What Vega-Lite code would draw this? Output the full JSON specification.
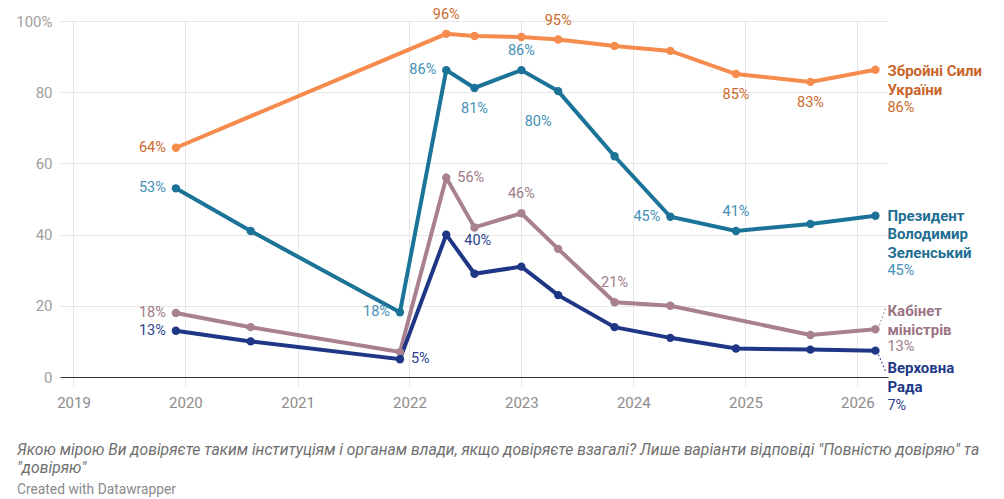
{
  "$schema": "https://vega.github.io/schema/vega-lite/v6.json",
  "width": 828,
  "height": 356,
  "autosize": {"type": "none"},
  "padding": {"left": 60, "top": 21, "right": 116, "bottom": 122},
  "background": "white",
  "config": {
    "font": "Roboto",
    "view": {"stroke": null},
    "text": {"font": "Roboto", "fontSize": 14.5}
  },
  "title": {
    "text": ["Якою мірою Ви довіряєте таким інституціям і органам влади, якщо довіряєте взагалі? Лише варіанти відповіді \"Повністю довіряю\" та", "\"довіряю\""],
    "subtitle": "Created with Datawrapper",
    "orient": "bottom",
    "anchor": "start",
    "frame": "group",
    "dx": -43,
    "offset": 31,
    "font": "Roboto",
    "fontSize": 15.7,
    "fontStyle": "italic",
    "fontWeight": "normal",
    "color": "#6f6f6f",
    "lineHeight": 18,
    "subtitleFont": "Roboto",
    "subtitleFontSize": 13.8,
    "subtitleColor": "#8a8a8a",
    "subtitlePadding": 6
  },
  "datasets": {
    "trust": [
      {"s": "zsu", "date": "2019-12-01", "v": 64.4},
      {"s": "zsu", "date": "2022-05-01", "v": 96.4},
      {"s": "zsu", "date": "2022-08-01", "v": 95.8},
      {"s": "zsu", "date": "2023-01-01", "v": 95.5},
      {"s": "zsu", "date": "2023-05-01", "v": 94.8},
      {"s": "zsu", "date": "2023-11-01", "v": 93.0},
      {"s": "zsu", "date": "2024-05-01", "v": 91.6},
      {"s": "zsu", "date": "2024-12-01", "v": 85.1},
      {"s": "zsu", "date": "2025-08-01", "v": 82.9},
      {"s": "zsu", "date": "2026-03-01", "v": 86.3},
      {"s": "pres", "date": "2019-12-01", "v": 53.0},
      {"s": "pres", "date": "2020-08-01", "v": 41.0},
      {"s": "pres", "date": "2021-12-01", "v": 18.2},
      {"s": "pres", "date": "2022-05-01", "v": 86.2},
      {"s": "pres", "date": "2022-08-01", "v": 81.2},
      {"s": "pres", "date": "2023-01-01", "v": 86.2},
      {"s": "pres", "date": "2023-05-01", "v": 80.3},
      {"s": "pres", "date": "2023-11-01", "v": 62.0},
      {"s": "pres", "date": "2024-05-01", "v": 45.0},
      {"s": "pres", "date": "2024-12-01", "v": 41.0},
      {"s": "pres", "date": "2025-08-01", "v": 43.0},
      {"s": "pres", "date": "2026-03-01", "v": 45.3},
      {"s": "cab", "date": "2019-12-01", "v": 18.0},
      {"s": "cab", "date": "2020-08-01", "v": 14.0},
      {"s": "cab", "date": "2021-12-01", "v": 7.0},
      {"s": "cab", "date": "2022-05-01", "v": 56.0},
      {"s": "cab", "date": "2022-08-01", "v": 42.0},
      {"s": "cab", "date": "2023-01-01", "v": 46.0},
      {"s": "cab", "date": "2023-05-01", "v": 36.0},
      {"s": "cab", "date": "2023-11-01", "v": 21.0},
      {"s": "cab", "date": "2024-05-01", "v": 20.0},
      {"s": "cab", "date": "2025-08-01", "v": 11.8},
      {"s": "cab", "date": "2026-03-01", "v": 13.4},
      {"s": "rada", "date": "2019-12-01", "v": 13.0},
      {"s": "rada", "date": "2020-08-01", "v": 10.0},
      {"s": "rada", "date": "2021-12-01", "v": 5.0},
      {"s": "rada", "date": "2022-05-01", "v": 40.0},
      {"s": "rada", "date": "2022-08-01", "v": 29.0},
      {"s": "rada", "date": "2023-01-01", "v": 31.0},
      {"s": "rada", "date": "2023-05-01", "v": 23.0},
      {"s": "rada", "date": "2023-11-01", "v": 14.0},
      {"s": "rada", "date": "2024-05-01", "v": 11.0},
      {"s": "rada", "date": "2024-12-01", "v": 8.0},
      {"s": "rada", "date": "2025-08-01", "v": 7.7},
      {"s": "rada", "date": "2026-03-01", "v": 7.4}
    ],
    "names": [
      {"s": "zsu", "name": "Збройні Сили\nУкраїни"},
      {"s": "pres", "name": "Президент\nВолодимир\nЗеленський"},
      {"s": "cab", "name": "Кабінет\nміністрів"},
      {"s": "rada", "name": "Верховна\nРада"}
    ]
  },
  "data": {"name": "trust"},
  "transform": [
    {"calculate": "datum.s + '|' + timeFormat(toDate(datum.date), '%Y-%m')", "as": "key"},
    {"calculate": "format(datum.v, '.0f') + '%'", "as": "lbl"}
  ],
  "encoding": {
    "x": {
      "field": "date",
      "type": "temporal",
      "scale": {"domain": ["2018-11-18", "2026-04-11"]},
      "axis": {
        "title": null,
        "values": [{"year": 2019}, {"year": 2020}, {"year": 2021}, {"year": 2022}, {"year": 2023}, {"year": 2024}, {"year": 2025}, {"year": 2026}],
        "format": "%Y",
        "grid": true,
        "gridColor": "#e6e6e6",
        "domainColor": "#333333",
        "tickColor": "#e6e6e6",
        "tickSize": 9,
        "labelPadding": 9,
        "labelFont": "Roboto",
        "labelFontSize": 15,
        "labelColor": "#8c8c8c"
      }
    },
    "y": {
      "field": "v",
      "type": "quantitative",
      "scale": {"domain": [0, 100]},
      "axis": {
        "title": null,
        "values": [0, 20, 40, 60, 80, 100],
        "labelExpr": "datum.value == 100 ? '100%' : datum.label",
        "grid": true,
        "gridColor": "#e6e6e6",
        "domain": false,
        "ticks": false,
        "labelPadding": 8,
        "labelFont": "Roboto",
        "labelFontSize": 15,
        "labelColor": "#a0a0a0"
      }
    }
  },
  "layer": [
    {
      "transform": [{"filter": "datum.key == 'cab|2026-03'"}],
      "mark": {"type": "rule", "strokeDash": [1.5, 2.5], "strokeWidth": 1.2, "color": "#a8808f", "xOffset": 4, "yOffset": -4, "x2Offset": 10, "y2Offset": -21},
      "encoding": {"x2": {"field": "date"}, "y2": {"field": "v"}}
    },
    {
      "transform": [{"filter": "datum.key == 'rada|2026-03'"}],
      "mark": {"type": "rule", "strokeDash": [1.5, 2.5], "strokeWidth": 1.2, "color": "#1f3686", "xOffset": 3, "yOffset": 4, "x2Offset": 10, "y2Offset": 20},
      "encoding": {"x2": {"field": "date"}, "y2": {"field": "v"}}
    },
    {
      "mark": {"type": "line", "strokeWidth": 4},
      "encoding": {
        "color": {"field": "s", "type": "nominal", "legend": null,
          "scale": {"domain": ["cab", "rada", "pres", "zsu"], "range": ["#a8808f", "#1f3686", "#1b7398", "#f58b4c"]}},
        "order": {"field": "date", "type": "temporal"}
      }
    },
    {
      "mark": {"type": "circle", "size": 70, "opacity": 1},
      "encoding": {
        "color": {"field": "s", "type": "nominal", "legend": null,
          "scale": {"domain": ["cab", "rada", "pres", "zsu"], "range": ["#a8808f", "#1f3686", "#1b7398", "#f58b4c"]}}
      }
    },
    {
      "transform": [{"filter": "indexof(['zsu|2019-12', 'pres|2019-12', 'cab|2019-12', 'rada|2019-12', 'pres|2021-12', 'pres|2022-05', 'pres|2024-05'], datum.key) >= 0"}],
      "mark": {"type": "text", "align": "right", "baseline": "middle", "dx": -10},
      "encoding": {
        "text": {"field": "lbl", "type": "nominal"},
        "color": {"field": "s", "type": "nominal", "legend": null,
          "scale": {"domain": ["cab", "rada", "pres", "zsu"], "range": ["#a07a89", "#2c3f8e", "#4590b6", "#cc6a2d"]}}
      }
    },
    {
      "transform": [{"filter": "indexof(['zsu|2022-05', 'zsu|2023-05', 'pres|2023-01', 'pres|2024-12', 'cab|2023-01', 'cab|2023-11'], datum.key) >= 0"}],
      "mark": {"type": "text", "align": "center", "baseline": "middle", "dy": -19},
      "encoding": {
        "text": {"field": "lbl", "type": "nominal"},
        "color": {"field": "s", "type": "nominal", "legend": null,
          "scale": {"domain": ["cab", "rada", "pres", "zsu"], "range": ["#a07a89", "#2c3f8e", "#4590b6", "#cc6a2d"]}}
      }
    },
    {
      "transform": [{"filter": "indexof(['zsu|2024-12', 'zsu|2025-08', 'pres|2022-08'], datum.key) >= 0"}],
      "mark": {"type": "text", "align": "center", "baseline": "middle", "dy": 21},
      "encoding": {
        "text": {"field": "lbl", "type": "nominal"},
        "color": {"field": "s", "type": "nominal", "legend": null,
          "scale": {"domain": ["cab", "rada", "pres", "zsu"], "range": ["#a07a89", "#2c3f8e", "#4590b6", "#cc6a2d"]}}
      }
    },
    {
      "transform": [{"filter": "datum.key == 'pres|2023-05'"}],
      "mark": {"type": "text", "align": "center", "baseline": "middle", "dx": -20, "dy": 31},
      "encoding": {
        "text": {"field": "lbl", "type": "nominal"},
        "color": {"field": "s", "type": "nominal", "legend": null,
          "scale": {"domain": ["cab", "rada", "pres", "zsu"], "range": ["#a07a89", "#2c3f8e", "#4590b6", "#cc6a2d"]}}
      }
    },
    {
      "transform": [{"filter": "indexof(['cab|2022-05', 'rada|2021-12'], datum.key) >= 0"}],
      "mark": {"type": "text", "align": "left", "baseline": "middle", "dx": 11},
      "encoding": {
        "text": {"field": "lbl", "type": "nominal"},
        "color": {"field": "s", "type": "nominal", "legend": null,
          "scale": {"domain": ["cab", "rada", "pres", "zsu"], "range": ["#a07a89", "#2c3f8e", "#4590b6", "#cc6a2d"]}}
      }
    },
    {
      "transform": [{"filter": "datum.key == 'rada|2022-05'"}],
      "mark": {"type": "text", "align": "left", "baseline": "middle", "dx": 18, "dy": 6},
      "encoding": {
        "text": {"field": "lbl", "type": "nominal"},
        "color": {"field": "s", "type": "nominal", "legend": null,
          "scale": {"domain": ["cab", "rada", "pres", "zsu"], "range": ["#a07a89", "#2c3f8e", "#4590b6", "#cc6a2d"]}}
      }
    },
    {
      "transform": [
        {"filter": "datum.key == 'zsu|2026-03'"},
        {"lookup": "s", "from": {"data": {"name": "names"}, "key": "s", "fields": ["name"]}}
      ],
      "layer": [
        {"mark": {"type": "text", "align": "left", "baseline": "top", "dx": 12, "dy": -6, "fontSize": 15, "fontWeight": "bold", "lineBreak": "\n", "lineHeight": 19, "color": "#c8642a"},
         "encoding": {"text": {"field": "name"}}},
        {"mark": {"type": "text", "align": "left", "baseline": "top", "dx": 12, "dy": 31, "color": "#cc6a2d"},
         "encoding": {"text": {"field": "lbl"}}}
      ]
    },
    {
      "transform": [
        {"filter": "datum.key == 'pres|2026-03'"},
        {"lookup": "s", "from": {"data": {"name": "names"}, "key": "s", "fields": ["name"]}}
      ],
      "layer": [
        {"mark": {"type": "text", "align": "left", "baseline": "top", "dx": 12, "dy": -7, "fontSize": 15, "fontWeight": "bold", "lineBreak": "\n", "lineHeight": 18.5, "color": "#1f6f93"},
         "encoding": {"text": {"field": "name"}}},
        {"mark": {"type": "text", "align": "left", "baseline": "top", "dx": 12, "dy": 48, "color": "#4590b6"},
         "encoding": {"text": {"field": "lbl"}}}
      ]
    },
    {
      "transform": [
        {"filter": "datum.key == 'cab|2026-03'"},
        {"lookup": "s", "from": {"data": {"name": "names"}, "key": "s", "fields": ["name"]}}
      ],
      "layer": [
        {"mark": {"type": "text", "align": "left", "baseline": "top", "dx": 12, "dy": -25, "fontSize": 15, "fontWeight": "bold", "lineBreak": "\n", "lineHeight": 18.5, "color": "#9b7485"},
         "encoding": {"text": {"field": "name"}}},
        {"mark": {"type": "text", "align": "left", "baseline": "top", "dx": 12, "dy": 11, "color": "#a07a89"},
         "encoding": {"text": {"field": "lbl"}}}
      ]
    },
    {
      "transform": [
        {"filter": "datum.key == 'rada|2026-03'"},
        {"lookup": "s", "from": {"data": {"name": "names"}, "key": "s", "fields": ["name"]}}
      ],
      "layer": [
        {"mark": {"type": "text", "align": "left", "baseline": "top", "dx": 12, "dy": 10, "fontSize": 15, "fontWeight": "bold", "lineBreak": "\n", "lineHeight": 19, "color": "#213887"},
         "encoding": {"text": {"field": "name"}}},
        {"mark": {"type": "text", "align": "left", "baseline": "top", "dx": 12, "dy": 48, "color": "#2c3f8e"},
         "encoding": {"text": {"field": "lbl"}}}
      ]
    }
  ],
  "resolve": {"scale": {"color": "independent"}}
}
